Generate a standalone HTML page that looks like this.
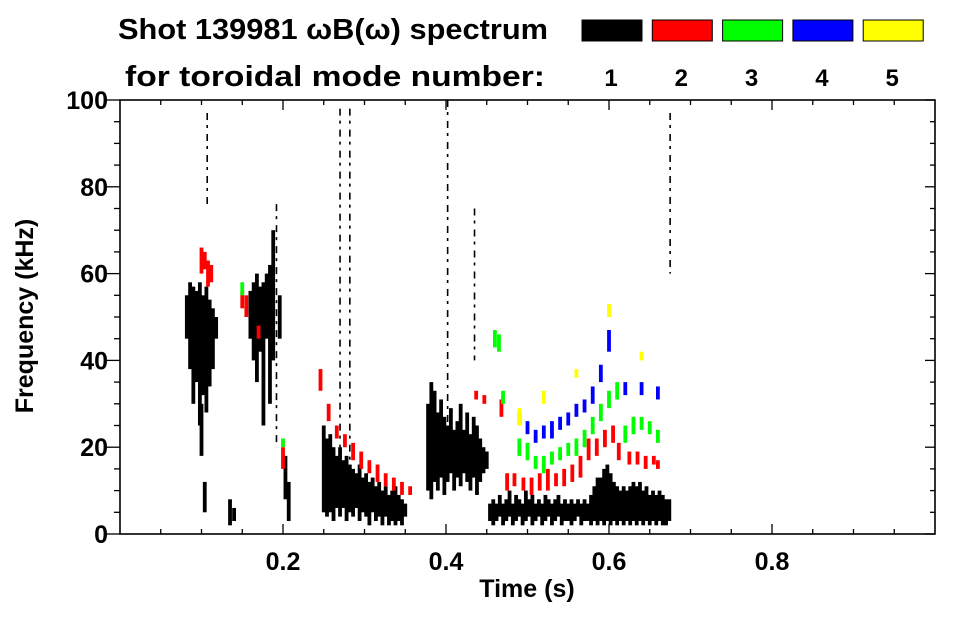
<!DOCTYPE html>
<html><head><meta charset="utf-8"><style>
body{margin:0;background:#fff;}
svg text{font-family:"Liberation Sans",Arial,sans-serif;font-weight:bold;fill:#000;}
</style></head><body>
<svg id="chart" width="963" height="615" viewBox="0 0 963 615" xmlns="http://www.w3.org/2000/svg">
<text x="118" y="39" font-size="29" textLength="430" lengthAdjust="spacingAndGlyphs">Shot 139981 ωB(ω) spectrum</text>
<text x="125" y="86" font-size="29" textLength="420" lengthAdjust="spacingAndGlyphs">for toroidal mode number:</text>
<g id="legend"></g>
<g id="marks"></g>
<g id="axes"></g>
<text x="527" y="597" font-size="25" text-anchor="middle">Time (s)</text>
<text transform="translate(33,316) rotate(-90)" font-size="25" text-anchor="middle">Frequency (kHz)</text>
</svg>
<script>
const modeNames=["1","2","3","4","5"];
const modeColors=["#000000","#ff0000","#00ff00","#0000ff","#ffff00"];
const xTickValues=[0.2,0.4,0.6,0.8];
const xTickLabels=["0.2","0.4","0.6","0.8"];
const yTickValues=[0,20,40,60,80,100];
const yTickLabels=["0","20","40","60","80","100"];
// [time s, low kHz, high kHz]
const mode1=[[.082,45,55],[.086,38,58],[.090,30,57],[.094,35,56],[.098,25,58],[.102,32,55],[.106,28,57],[.110,34,54],[.114,38,52],[.118,45,50],[.100,18,30],[.107,75,97],[.104,5,12],[.135,2,8],[.140,3,6],
[.160,45,56],[.164,40,58],[.168,35,60],[.172,42,57],[.176,25,58],[.180,45,60],[.184,30,62],[.188,40,70],[.192,20,76],[.196,45,55],[.203,8,18],[.207,3,12],
[.270,20,98],[.282,15,98],[.402,15,100],[.435,40,75],[.675,60,97],
[.250,5,25],[.254,4,22],[.258,5,23],[.262,3,20],[.266,6,18],[.270,4,20],[.274,6,17],[.278,3,18],[.282,5,16],[.286,4,15],[.290,6,14],[.294,3,16],[.298,5,13],[.302,4,14],[.306,2,12],[.310,5,13],[.314,3,11],[.318,4,12],[.322,2,10],[.326,4,11],[.330,2,9],[.334,3,10],[.338,2,11],[.342,3,9],[.346,2,8],[.350,4,7],
[.378,10,30],[.382,8,35],[.386,12,33],[.390,10,28],[.394,13,31],[.398,9,27],[.402,12,25],[.406,14,29],[.410,10,24],[.414,13,26],[.418,11,30],[.422,14,24],[.426,12,28],[.430,10,23],[.434,13,27],[.438,9,25],[.442,12,22],[.446,14,20],[.450,15,19],
[.454,3,7],[.458,2,8],[.462,3,7],[.466,4,9],[.470,2,7],[.474,3,8],[.478,4,10],[.482,2,7],[.486,3,9],[.490,4,8],[.494,2,7],[.498,3,10],[.502,4,8],[.506,2,9],[.510,3,7],[.514,4,8],[.518,2,7],[.522,3,9],[.526,4,8],[.530,2,7],[.534,3,8],[.538,4,9],[.542,2,7],[.546,3,8],[.550,3,7],[.554,2,8],[.558,3,7],[.562,4,8],[.566,2,7],[.570,3,8],[.574,3,7],[.578,2,9],[.582,3,11],[.586,2,13],[.590,3,13],[.594,2,15],[.598,3,16],[.602,2,14],[.606,3,12],[.610,2,11],[.614,3,10],[.618,2,11],[.622,3,10],[.626,2,11],[.630,3,12],[.634,2,11],[.638,3,12],[.642,2,10],[.646,3,11],[.650,2,9],[.654,3,10],[.658,2,9],[.662,3,10],[.666,2,9],[.670,2,8],[.674,3,8]];
const mode2=[[.100,60,66],[.104,61,65],[.108,57,63],[.112,58,62],[.150,52,56],[.155,50,55],[.170,45,48],[.200,15,20],[.246,33,38],[.256,26,30],[.266,22,25],[.276,20,23],[.286,17,21],[.296,15,19],[.306,14,17],[.316,12,16],[.326,11,14],[.336,10,13],[.346,9,12],[.356,9,11],[.437,31,33],[.447,30,32],[.468,27,31],[.475,10,14],[.484,11,14],[.495,10,13],[.505,9,13],[.515,10,14],[.525,10,15],[.535,11,14],[.545,11,15],[.555,12,16],[.565,13,18],[.575,17,22],[.585,18,22],[.595,20,24],[.605,21,25],[.612,17,21],[.625,16,19],[.635,16,19],[.645,15,18],[.655,16,18],[.660,15,17]];
const mode3=[[.150,55,58],[.200,20,22],[.460,43,47],[.465,42,46],[.470,30,33],[.490,18,22],[.500,17,21],[.510,15,18],[.520,14,18],[.530,16,19],[.540,17,20],[.550,18,21],[.560,18,22],[.570,20,24],[.580,23,27],[.590,26,30],[.600,29,33],[.610,31,35],[.620,21,25],[.630,23,27],[.640,24,27],[.650,23,26],[.660,21,24]];
const mode4=[[.490,25,28],[.500,23,26],[.510,21,24],[.520,22,25],[.530,22,26],[.540,24,27],[.550,25,28],[.560,27,30],[.570,28,31],[.580,30,34],[.590,35,39],[.600,42,47],[.620,32,35],[.640,32,35],[.660,31,34]];
const mode5=[[.490,25,29],[.520,30,33],[.560,36,38],[.600,50,53],[.640,40,42]];
const modeSeries=[mode1,mode2,mode3,mode4,mode5];

const NS="http://www.w3.org/2000/svg";
const L=120,R=935,T=100,B=534;
const X=t=>L+t*(R-L);
const Y=f=>B-f*(B-T)/100;
function mk(tag,attrs,parent){const e=document.createElementNS(NS,tag);for(const k in attrs)e.setAttribute(k,attrs[k]);parent.appendChild(e);return e;}
const marks=document.getElementById('marks'),axes=document.getElementById('axes'),legend=document.getElementById('legend');
modeSeries.forEach((ser,m)=>{
  const g=mk('g',{},marks);
  
  
  ser.forEach(d=>{
    const thin=(d[2]-d[1])>20 && d[1]>=15 && (d[2]>70);
    let r;
    if(thin){
      r=mk('line',{x1:X(d[0]),x2:X(d[0]),y1:Y(d[2]),y2:Y(d[1]),stroke:modeColors[m],'stroke-width':1.6,'stroke-dasharray':'7 5 3 6'},g);
    } else {
      r=mk('rect',{x:X(d[0])-1.9,y:Y(d[2]),width:3.8,height:Y(d[1])-Y(d[2]),fill:modeColors[m]},g);
    }
    
    
  });
});
modeNames.forEach((n,i)=>{
  const bx=582+i*70.3;
  const r=mk('rect',{x:bx,y:20,width:60,height:21,fill:modeColors[i],stroke:'#000','stroke-width':1},legend);
  
  
  const t=mk('text',{x:bx+29,y:86,'font-size':24,'text-anchor':'middle'},legend);
  t.textContent=n;
  
  
});
const frame=mk('rect',{x:L,y:T,width:R-L,height:B-T,fill:'none',stroke:'#000','stroke-width':1.6},axes);


for(let k=1;k<20;k++){const t=k*0.05,x=X(t);const major=k%4===0;const len=major?10:5;
  mk('line',{x1:x,y1:B,x2:x,y2:B-len,stroke:'#000','stroke-width':1.3},axes);
  mk('line',{x1:x,y1:T,x2:x,y2:T+len,stroke:'#000','stroke-width':1.3},axes);}
for(let k=0;k<=20;k++){const f=k*5,y=Y(f);const major=k%4===0;
  if(major){mk('line',{x1:L-15,y1:y,x2:L,y2:y,stroke:'#000','stroke-width':1.3},axes);}
  else{mk('line',{x1:L,y1:y,x2:L-6,y2:y,stroke:'#000','stroke-width':1.3},axes);}
  mk('line',{x1:R,y1:y,x2:R-(major?10:5),y2:y,stroke:'#000','stroke-width':1.3},axes);}
xTickValues.forEach((v,i)=>{const t=mk('text',{x:X(v),y:570,'font-size':25,'text-anchor':'middle'},axes);t.textContent=xTickLabels[i];
  
  });
yTickValues.forEach((v,i)=>{const t=mk('text',{x:108,y:Y(v)+9,'font-size':25,'text-anchor':'end'},axes);t.textContent=yTickLabels[i];
  
  });
</script>
</body></html>
